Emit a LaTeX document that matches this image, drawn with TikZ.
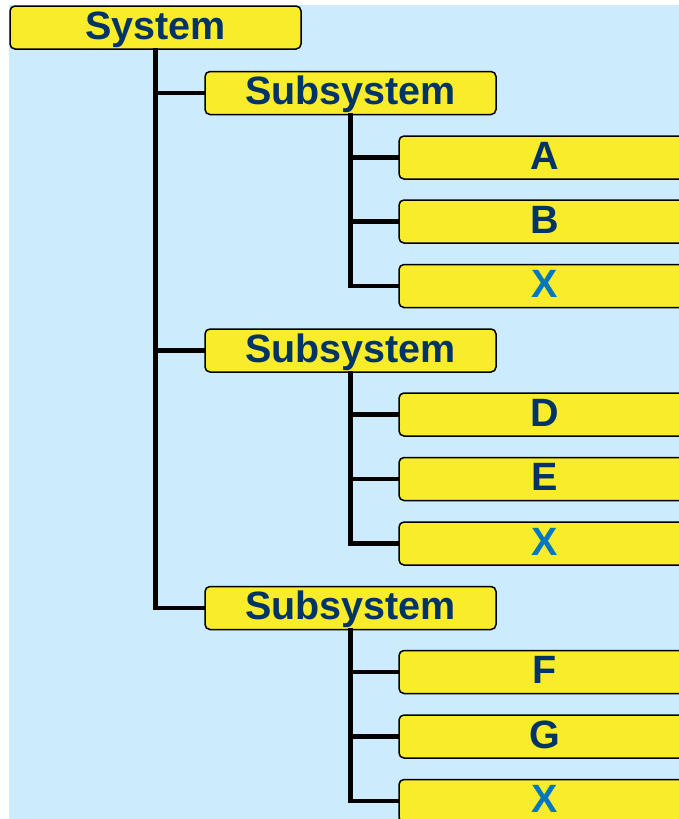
\documentclass[tikz,border=0pt]{standalone}
\usepackage{fontspec}
\setmainfont{Liberation Sans}
\definecolor{bgblue}{RGB}{204,235,253}
\definecolor{boxyellow}{RGB}{249,236,43}
\definecolor{navy}{RGB}{0,51,102}
\definecolor{xblue}{RGB}{0,119,192}
\begin{document}
\begin{tikzpicture}[x=1pt,y=-1pt,
  box/.style={draw=black,line width=1.5pt,fill=boxyellow,rounded corners=5pt,
    minimum width=291pt,minimum height=43pt,inner sep=0pt,anchor=center,
    text height=28.6pt,text depth=5pt,
    font=\fontsize{39.5}{41}\selectfont\bfseries,text=navy},
  xbox/.style={box,text=xblue},
  link/.style={line width=4.2pt,line join=miter,line cap=rect}]
\useasboundingbox (0,0) rectangle (679,819);
\clip (0,0) rectangle (679,819);
\fill[bgblue] (9,5) rectangle (679,819);

% top level
\node[box] (sys) at (155.5,27.5) {System};

% subsystems
\node[box] (s1) at (350.5,93) {Subsystem};
\node[box] (s2) at (350.5,350.5) {Subsystem};
\node[box] (s3) at (350.5,608) {Subsystem};

% leaves
\node[box]  (a)  at (544.5,157.5) {A};
\node[box]  (b)  at (544.5,221.5) {B};
\node[xbox] (x1) at (544.5,286)   {X};
\node[box]  (d)  at (544.5,414.5) {D};
\node[box]  (e)  at (544.5,479)   {E};
\node[xbox] (x2) at (544.5,543.5) {X};
\node[box]  (f)  at (544.5,672)   {F};
\node[box]  (g)  at (544.5,736.5) {G};
\node[xbox] (x3) at (544.5,801)   {X};

% tree connectors
\foreach \s in {s1,s2,s3} \draw[link] (sys.south) |- (\s.west);
\foreach \l in {a,b,x1} \draw[link] (s1.south) |- (\l.west);
\foreach \l in {d,e,x2} \draw[link] (s2.south) |- (\l.west);
\foreach \l in {f,g,x3} \draw[link] (s3.south) |- (\l.west);
\end{tikzpicture}
\end{document}
